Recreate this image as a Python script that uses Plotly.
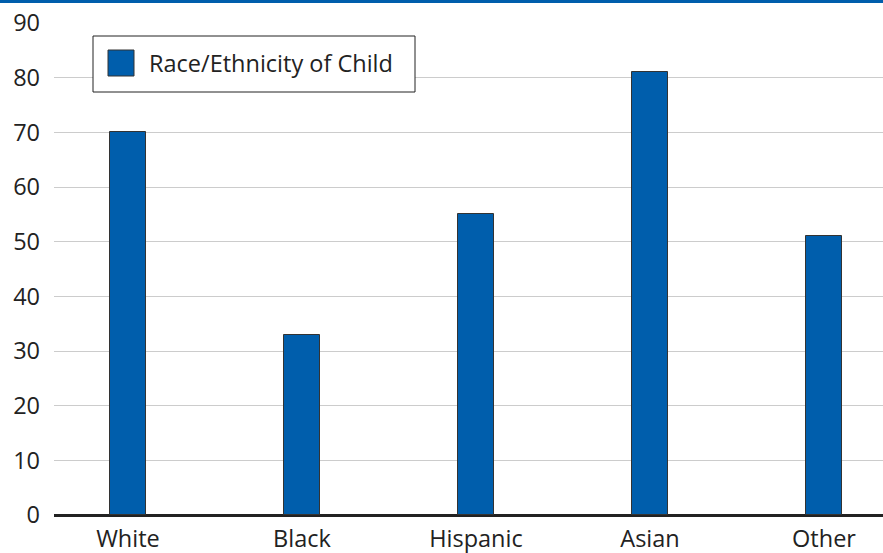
import plotly.graph_objects as go

categories = ["White", "Black", "Hispanic", "Asian", "Other"]
values = [70, 33, 55, 81, 51]
series_name = "Race/Ethnicity of Child"
y_ticks = [0, 10, 20, 30, 40, 50, 60, 70, 80, 90]

BLUE = "#005eac"
FONT = "Open Sans"
FS = 23.5

fig = go.Figure()
fig.add_trace(go.Bar(
    x=list(range(len(categories))), y=values, name=series_name,
    marker=dict(color=BLUE, line=dict(color="#333333", width=1)),
    width=0.207, showlegend=False,
))

fig.update_layout(
    width=883, height=553,
    margin=dict(l=54, r=0, t=23, b=38),
    plot_bgcolor="white", paper_bgcolor="white",
    font=dict(family=FONT, size=FS, color="#222222"),
    bargap=0,
    xaxis=dict(
        tickmode="array", tickvals=list(range(len(categories))), ticktext=categories,
        range=[-0.425, 4.339], showgrid=False, zeroline=False, automargin=False,
        showline=False, ticks="", ticklabelstandoff=7,
        tickfont=dict(size=FS, color="#222222"),
    ),
    yaxis=dict(
        range=[0, 90], tickvals=y_ticks, showgrid=True, gridcolor="#cccccc", gridwidth=1,
        zeroline=True, zerolinecolor="#222222", zerolinewidth=3, automargin=False,
        showline=False, ticks="", ticklabelstandoff=13,
        tickfont=dict(size=FS, color="#222222"),
    ),
    shapes=[
        # top blue rule
        dict(type="rect", xref="paper", yref="paper", x0=-54/829, x1=1, y0=1 + 20/492, y1=1 + 23/492,
             fillcolor=BLUE, line=dict(width=0), layer="above"),
        # legend box
        dict(type="rect", xref="paper", yref="paper",
             x0=(93-54)/829, x1=(415-54)/829, y0=(515-92)/492, y1=(515-36)/492,
             fillcolor="white", line=dict(color="#222222", width=1), layer="above"),
        # legend swatch
        dict(type="rect", xref="paper", yref="paper",
             x0=(108-54)/829, x1=(134-54)/829, y0=(515-76)/492, y1=(515-50)/492,
             fillcolor=BLUE, line=dict(color="#333333", width=1), layer="above"),
    ],
    annotations=[
        dict(text=series_name, xref="paper", yref="paper",
             x=(147-54)/829, y=(515-63)/492, xanchor="left", yanchor="middle",
             showarrow=False, font=dict(family=FONT, size=FS, color="#222222")),
    ],
)

fig.write_html("out.html")
